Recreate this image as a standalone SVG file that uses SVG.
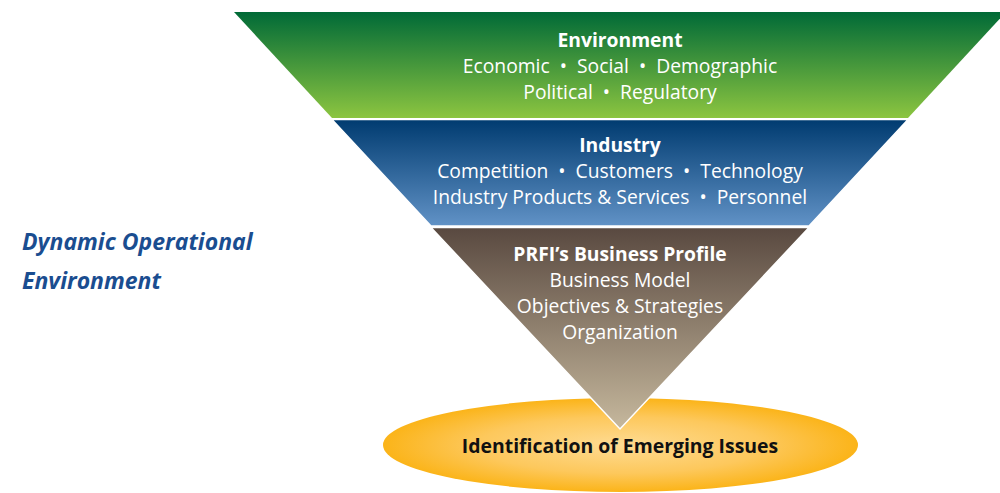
<svg xmlns="http://www.w3.org/2000/svg" width="1000" height="493" viewBox="0 0 1000 493">
<style>
text{font-family:"Open Sans","Noto Sans","Liberation Sans",sans-serif;text-anchor:middle}
.h{font-weight:bold;font-size:19.3px;fill:#fff}
.t{font-size:19.3px;fill:#fff}
.side{font-weight:bold;font-style:italic;font-size:23px;fill:#1a4d90;text-anchor:start}
.e{font-weight:bold;font-size:19.4px;fill:#111}
</style>
<defs>
<linearGradient id="g1" x1="0" y1="0" x2="0" y2="1"><stop offset="0" stop-color="#006a37"/><stop offset="1" stop-color="#8cc540"/></linearGradient>
<linearGradient id="g2" x1="0" y1="0" x2="0" y2="1"><stop offset="0" stop-color="#003b70"/><stop offset="1" stop-color="#6192c6"/></linearGradient>
<linearGradient id="g3" x1="0" y1="0" x2="0" y2="1"><stop offset="0" stop-color="#594940"/><stop offset="1" stop-color="#c6b89d"/></linearGradient>
<radialGradient id="g4" cx="0.5" cy="0.5" r="0.5"><stop offset="0" stop-color="#fedb92"/><stop offset="0.6" stop-color="#fdc85c"/><stop offset="1" stop-color="#fbb419"/></radialGradient>
</defs>
<rect width="1000" height="493" fill="#fff"/>
<g id="side-label">
<text class="side" x="22" y="250">Dynamic Operational</text>
<text class="side" x="22" y="289">Environment</text>
</g>
<g id="outcome">
<ellipse cx="620.5" cy="445" rx="237.5" ry="47" fill="url(#g4)"/>
</g>
<g id="environment">
<polygon points="234,12 1006,12 908,118 332,118" fill="url(#g1)"/>
<text class="h" x="620" y="47">Environment</text>
<text class="t" x="620" y="73">Economic&#160;&#160;•&#160;&#160;Social&#160;&#160;•&#160;&#160;Demographic</text>
<text class="t" x="620" y="99">Political&#160;&#160;•&#160;&#160;Regulatory</text>
</g>
<g id="industry">
<polygon points="332,119.5 908,119.5 809,226 431,226" fill="url(#g2)" stroke="#fff" stroke-width="1.5"/>
<text class="h" x="620" y="152">Industry</text>
<text class="t" x="620" y="178">Competition&#160;&#160;•&#160;&#160;Customers&#160;&#160;•&#160;&#160;Technology</text>
<text class="t" x="620" y="204">Industry Products &amp; Services&#160;&#160;•&#160;&#160;Personnel</text>
</g>
<g id="business-profile">
<polygon points="431,227.5 809,227.5 620,429" fill="url(#g3)" stroke="#fff" stroke-width="1.5"/>
<text class="h" x="620" y="261">PRFI’s Business Profile</text>
<text class="t" x="620" y="287">Business Model</text>
<text class="t" x="620" y="313">Objectives &amp; Strategies</text>
<text class="t" x="620" y="339">Organization</text>
</g>
<g id="outcome-label">
<text class="e" x="620" y="453">Identification of Emerging Issues</text>
</g>
<g id="connectors"/>
</svg>
